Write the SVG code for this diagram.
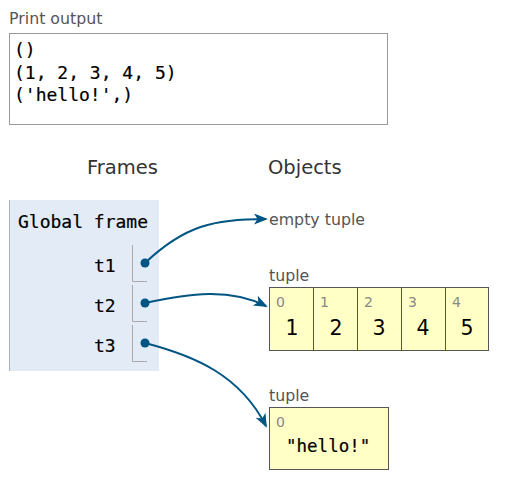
<svg xmlns="http://www.w3.org/2000/svg" width="505" height="484" viewBox="0 0 505 484">
<style>
.lbl{font-family:"DejaVu Sans",Verdana,sans-serif;fill:#555}
.mono{font-family:"DejaVu Sans Mono","Liberation Mono",monospace;fill:#000;stroke:#000;stroke-width:0.2}
.head{font-family:"DejaVu Sans",Verdana,sans-serif;font-size:19.5px;fill:#333}
.cell{fill:#ffffc6;stroke:#555;stroke-width:1}
.idx{font-family:"DejaVu Sans",Verdana,sans-serif;font-size:14px;fill:#888}
.val{font-family:"DejaVu Sans",Verdana,sans-serif;font-size:20.5px;fill:#000;text-anchor:middle}
.vline{fill:none;stroke:#aaa;stroke-width:1}
.conn{fill:none;stroke:#005583;stroke-width:2}
.dot{fill:#005583}
</style>
<defs>
<marker id="ah" markerUnits="userSpaceOnUse" markerWidth="15" markerHeight="12" refX="12" refY="5.5" orient="auto">
<path d="M0,0 L14,5.5 L0,11 L3.5,5.5 z" fill="#005583"/>
</marker>
</defs>
<rect width="505" height="484" fill="#fff"/>
<g id="print-output">
<text class="lbl" x="9" y="24" font-size="15.8">Print output</text>
<rect x="9.5" y="33.5" width="378" height="91" fill="#fff" stroke="#999"/>
<text class="mono" x="14" y="56" font-size="18">()</text>
<text class="mono" x="14" y="79" font-size="18">(1, 2, 3, 4, 5)</text>
<text class="mono" x="14" y="101" font-size="18">('hello!',)</text>
</g>
<text class="head" x="87" y="174">Frames</text>
<text class="head" x="268" y="174">Objects</text>
<g id="global-frame">
<rect x="9" y="200" width="150" height="171" fill="#e2ebf6"/>
<line x1="9.5" y1="200" x2="9.5" y2="371" stroke="#aab4c0"/>
<text class="mono" x="18" y="228" font-size="18">Global frame</text>
<text class="mono" x="94" y="272" font-size="18">t1</text>
<text class="mono" x="94" y="312" font-size="18">t2</text>
<text class="mono" x="94" y="352" font-size="18">t3</text>
<path class="vline" d="M132.5,245 V281.5 H147"/>
<path class="vline" d="M132.5,285 V321.5 H147"/>
<path class="vline" d="M132.5,325 V361.5 H147"/>
</g>
<g id="empty-tuple">
<text class="lbl" x="269" y="225" font-size="15.8">empty tuple</text>
</g>
<g id="tuple-5">
<text class="lbl" x="269" y="281" font-size="15.8">tuple</text>
<rect class="cell" x="269.5" y="287.5" width="44" height="63"/>
<rect class="cell" x="313.5" y="287.5" width="44" height="63"/>
<rect class="cell" x="357.5" y="287.5" width="44" height="63"/>
<rect class="cell" x="401.5" y="287.5" width="44" height="63"/>
<rect class="cell" x="445.5" y="287.5" width="43" height="63"/>
<text class="idx" x="276" y="307">0</text>
<text class="idx" x="320" y="307">1</text>
<text class="idx" x="364" y="307">2</text>
<text class="idx" x="408" y="307">3</text>
<text class="idx" x="452" y="307">4</text>
<text class="val" x="292" y="335">1</text>
<text class="val" x="336" y="335">2</text>
<text class="val" x="379" y="335">3</text>
<text class="val" x="423" y="335">4</text>
<text class="val" x="467" y="335">5</text>
</g>
<g id="tuple-1">
<text class="lbl" x="269" y="401" font-size="15.8">tuple</text>
<rect class="cell" x="269.5" y="407.5" width="119" height="62"/>
<text class="idx" x="276" y="427">0</text>
<text class="mono" x="286" y="452" font-size="17.5">"hello!"</text>
</g>
<g id="connectors">
<path class="conn" d="M145,263 C185,225 215,219 266,219" marker-end="url(#ah)"/>
<path class="conn" d="M145,303 C190,293 230,288 266,306" marker-end="url(#ah)"/>
<path class="conn" d="M145,343 C195,356 240,375 266,426" marker-end="url(#ah)"/>
<circle class="dot" cx="145" cy="263" r="4.5"/>
<circle class="dot" cx="145" cy="303" r="4.5"/>
<circle class="dot" cx="145" cy="343" r="4.5"/>
</g>
</svg>
